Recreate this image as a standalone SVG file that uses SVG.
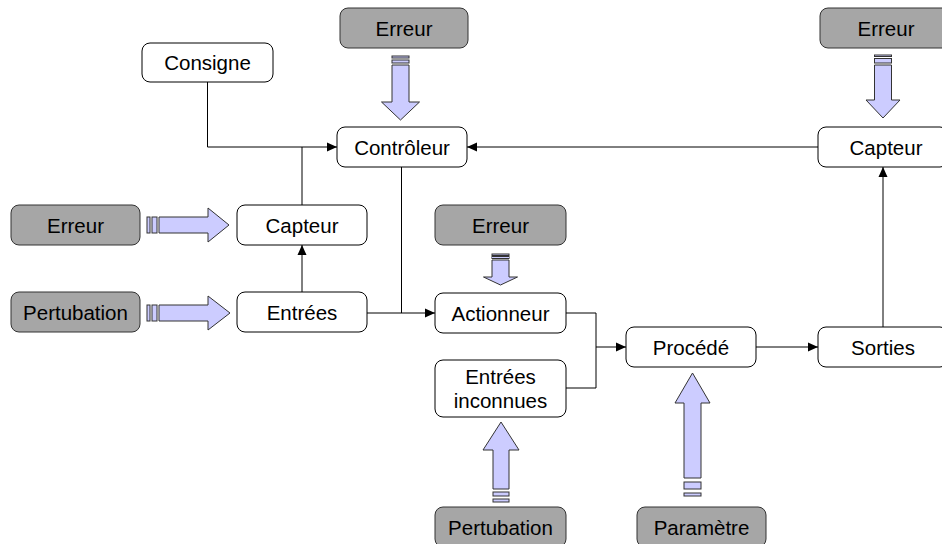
<svg xmlns="http://www.w3.org/2000/svg" width="942" height="544" viewBox="0 0 942 544">
  <defs>
    <marker id="arr" viewBox="0 0 10 10" refX="10" refY="5" markerWidth="10" markerHeight="10" markerUnits="userSpaceOnUse" orient="auto">
      <path d="M0,0.5 L10,5 L0,9.5 Z" fill="#000"/>
    </marker>
    <style>
      .box { fill: #ffffff; stroke: #000; stroke-width: 1; }
      .gbox { fill: #a6a6a6; stroke: #333; stroke-width: 1; }
      .lbl { font-family: "Liberation Sans", Arial, sans-serif; font-size: 20.5px; fill: #000; text-anchor: middle; }
      .wire { fill: none; stroke: #000; stroke-width: 1; }
      .big { fill: #ccccff; stroke: #333; stroke-width: 1; }
    </style>
  </defs>
  <rect width="942" height="544" fill="#ffffff"/>

  <!-- connectors -->
  <g id="connectors">
    <path class="wire" d="M207.5,82 V147 H337" marker-end="url(#arr)"/>
    <path class="wire" d="M302,205 V147"/>
    <path class="wire" d="M302,292 V245" marker-end="url(#arr)"/>
    <path class="wire" d="M401.5,167 V313"/>
    <path class="wire" d="M367,313 H435" marker-end="url(#arr)"/>
    <path class="wire" d="M566,313 H596 V347 H626" marker-end="url(#arr)"/>
    <path class="wire" d="M566,388 H596 V347"/>
    <path class="wire" d="M756,347 H818" marker-end="url(#arr)"/>
    <path class="wire" d="M883,327 V167" marker-end="url(#arr)"/>
    <path class="wire" d="M818,147 H467" marker-end="url(#arr)"/>
  </g>

  <!-- striped influence arrows -->
  <g id="influences">
    <g id="arrow-err-controleur">
      <rect class="big" x="392" y="56" width="17" height="2"/>
      <rect class="big" x="392" y="60" width="17" height="3"/>
      <path class="big" d="M392,65 H409 V102 H419.5 L400.5,120 L381.5,102 H392 Z"/>
    </g>
    <g id="arrow-err-capteur-droit">
      <rect class="big" x="874.5" y="55" width="17" height="1.5"/>
      <rect class="big" x="874.5" y="58.5" width="17" height="4.5"/>
      <path class="big" d="M874.5,65 H891.5 V100 H900 L883,118 L866,100 H874.5 Z"/>
    </g>
    <g id="arrow-err-actionneur">
      <rect class="big" x="492" y="254" width="17" height="1.5"/>
      <rect class="big" x="492" y="256.5" width="17" height="2"/>
      <path class="big" d="M492,260 H509 V277 H517.5 L500.5,285 L483.5,277 H492 Z"/>
    </g>
    <g id="arrow-pert-inconnues">
      <rect class="big" x="493" y="492" width="16" height="4"/>
      <rect class="big" x="493" y="499" width="16" height="3"/>
      <path class="big" d="M493,489 H509 V450 H519 L501,422 L483,450 H493 Z"/>
    </g>
    <g id="arrow-param-procede">
      <rect class="big" x="684" y="482" width="17" height="7"/>
      <rect class="big" x="684" y="493" width="17" height="3"/>
      <path class="big" d="M684,478 H701 V403 H710 L692.5,373 L675,403 H684 Z"/>
    </g>
    <g id="arrow-err-capteur-gauche">
      <rect class="big" x="147" y="217" width="3" height="16"/>
      <rect class="big" x="152" y="217" width="5" height="16"/>
      <path class="big" d="M159,217 V233 H208 V242 L229,225 L208,208 V217 Z"/>
    </g>
    <g id="arrow-pert-entrees">
      <rect class="big" x="147" y="305" width="3" height="16"/>
      <rect class="big" x="152" y="305" width="5" height="16"/>
      <path class="big" d="M159,305 V321 H208 V330 L230,313 L208,296 V305 Z"/>
    </g>
  </g>

  <!-- nodes -->
  <g id="consigne"><rect class="box" x="142" y="43" width="131" height="39" rx="8"/><text class="lbl" x="207.5" y="70">Consigne</text></g>
  <g id="erreur-1"><rect class="gbox" x="340" y="8" width="128" height="40" rx="8"/><text class="lbl" x="404" y="36">Erreur</text></g>
  <g id="controleur"><rect class="box" x="337" y="127" width="130" height="40" rx="8"/><text class="lbl" x="402" y="155">Contrôleur</text></g>
  <g id="erreur-2"><rect class="gbox" x="820" y="8" width="130" height="40" rx="8"/><text class="lbl" x="886" y="36">Erreur</text></g>
  <g id="capteur-droit"><rect class="box" x="818" y="127" width="130" height="40" rx="8"/><text class="lbl" x="886" y="155">Capteur</text></g>
  <g id="erreur-3"><rect class="gbox" x="11" y="205" width="129" height="40" rx="8"/><text class="lbl" x="75.5" y="233">Erreur</text></g>
  <g id="capteur-gauche"><rect class="box" x="237" y="205" width="130" height="40" rx="8"/><text class="lbl" x="302" y="233">Capteur</text></g>
  <g id="erreur-4"><rect class="gbox" x="435" y="205" width="131" height="40" rx="8"/><text class="lbl" x="500.5" y="233">Erreur</text></g>
  <g id="pertubation-1"><rect class="gbox" x="11" y="292" width="129" height="40" rx="8"/><text class="lbl" x="75.5" y="320">Pertubation</text></g>
  <g id="entrees"><rect class="box" x="237" y="292" width="130" height="40" rx="8"/><text class="lbl" x="302" y="320">Entrées</text></g>
  <g id="actionneur"><rect class="box" x="435" y="293" width="131" height="40" rx="8"/><text class="lbl" x="500.5" y="321">Actionneur</text></g>
  <g id="entrees-inconnues"><rect class="box" x="435" y="360" width="131" height="57" rx="8"/><text class="lbl" x="500.5" y="383.5">Entrées</text><text class="lbl" x="500.5" y="408">inconnues</text></g>
  <g id="procede"><rect class="box" x="626" y="327" width="130" height="40" rx="8"/><text class="lbl" x="691" y="355">Procédé</text></g>
  <g id="sorties"><rect class="box" x="818" y="327" width="130" height="40" rx="8"/><text class="lbl" x="883" y="355">Sorties</text></g>
  <g id="pertubation-2"><rect class="gbox" x="435" y="507" width="131" height="40" rx="8"/><text class="lbl" x="500.5" y="535">Pertubation</text></g>
  <g id="parametre"><rect class="gbox" x="637" y="507" width="129" height="40" rx="8"/><text class="lbl" x="701.5" y="535">Paramètre</text></g>
</svg>
